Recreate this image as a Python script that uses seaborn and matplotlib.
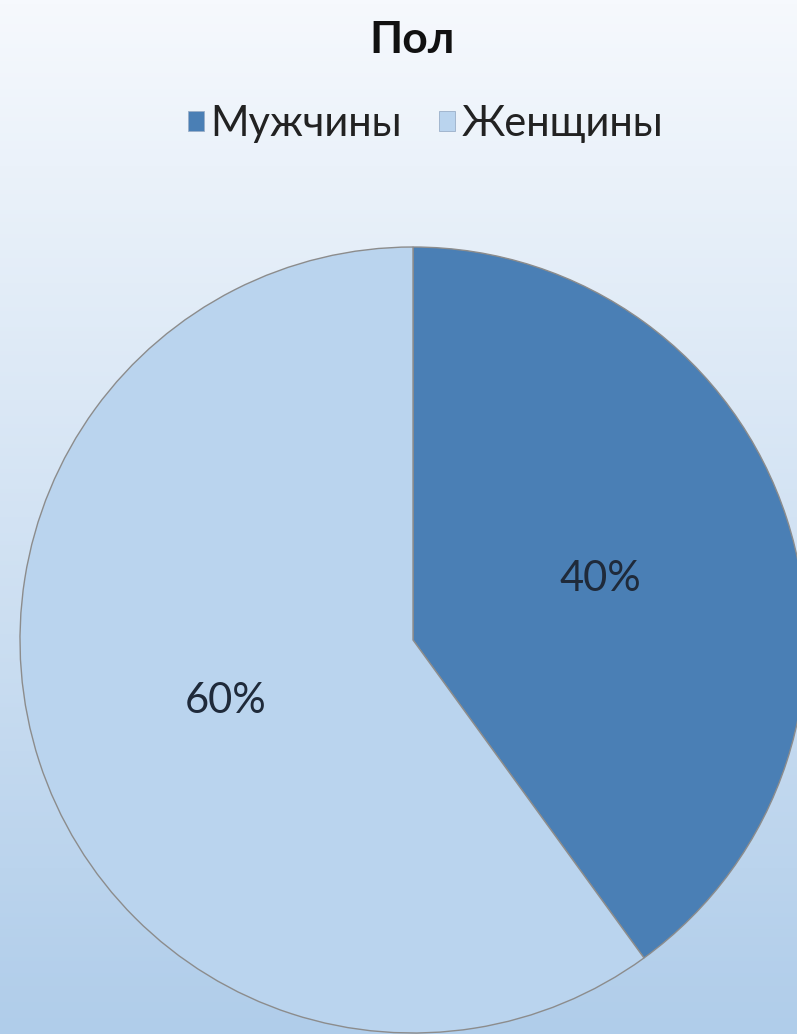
import numpy as np
import matplotlib
matplotlib.use("Agg")
import matplotlib.pyplot as plt
from matplotlib.patches import Patch
import seaborn as sns

# Data
categories = ["Мужчины", "Женщины"]
shares = [40, 60]
title = "Пол"

sns.set_theme(style="white")
plt.rcParams["font.family"] = ["Lato", "Noto Sans", "DejaVu Sans"]

colors = sns.color_palette(["#4A7FB5", "#BAD4EE"])

W, H = 797, 1034
fig = plt.figure(figsize=(W / 100, H / 100), dpi=100)

# Vertical background gradient
bg = fig.add_axes([0, 0, 1, 1], zorder=0)
grad = np.linspace(0, 1, 256).reshape(-1, 1)
top = np.array([0xF6, 0xF9, 0xFD]) / 255
bottom = np.array([0xB0, 0xCD, 0xEA]) / 255
img = top + (bottom - top) * grad[..., None]
bg.imshow(img, aspect="auto", extent=[0, 1, 0, 1], origin="upper")
bg.set_axis_off()

# Pie axes: centre (413, 640) px, radius 393 px
cx, cy, r = 413, 640, 393
ax = fig.add_axes([(cx - r) / W, (H - cy - r) / H, 2 * r / W, 2 * r / H], zorder=1)
ax.patch.set_alpha(0)
wedges, texts, autotexts = ax.pie(
    shares,
    colors=colors,
    startangle=90,
    counterclock=False,
    autopct="%d%%",
    pctdistance=0.5,
    wedgeprops=dict(edgecolor="#8C8C8C", linewidth=1.0),
    textprops=dict(fontsize=30, color="#1F2A3A"),
)
ax.set_xlim(-1, 1)
ax.set_ylim(-1, 1)
ax.set_aspect("equal", adjustable="box")
ax.set_axis_off()

fig.text(0.517, 1 - 40 / H, title, ha="center", va="center",
         fontsize=32, fontweight="bold", color="#111111")

handles = [Patch(facecolor=c, edgecolor="#9AAFC8", linewidth=0.6) for c in colors]
fig.legend(handles, categories, loc="center", bbox_to_anchor=(0.534, 1 - 124 / H),
           ncol=2, frameon=False, fontsize=30, handlelength=0.38, handleheight=0.38,
           handletextpad=0.15, columnspacing=0.9, labelcolor="#222222")

fig.savefig("out.png", dpi=100)
